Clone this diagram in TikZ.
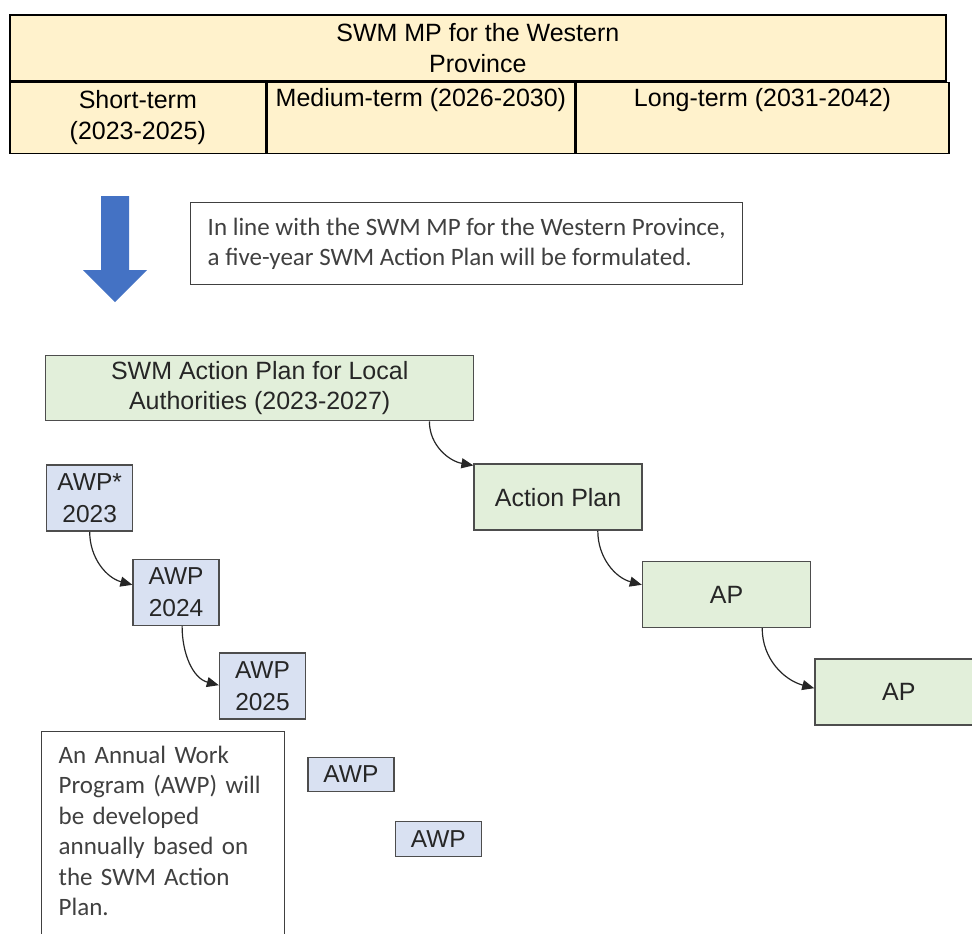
\documentclass[tikz,border=0pt]{standalone}
\usepackage{fontspec}
\setmainfont{Liberation Sans}
\newfontfamily\notefont{Carlito}
\usetikzlibrary{arrows.meta, positioning}
\definecolor{Ctab}{HTML}{FFF2CC}
\definecolor{Cplan}{HTML}{E2EFDA}
\definecolor{Cawp}{HTML}{D9E1F2}
\definecolor{Cblue}{HTML}{4472C4}
\definecolor{Cedge}{HTML}{4D4D4D}
\definecolor{Cnote}{HTML}{404040}
\tikzset{
  tabcell/.style={draw=black, line width=1.6pt, fill=Ctab, inner sep=0pt,
    align=center, font=\fontsize{25}{31}\selectfont},
  planbox/.style={draw=Cedge, line width=1.4pt, fill=Cplan, inner sep=0pt,
    align=center, minimum width=168pt, minimum height=66pt,
    font=\fontsize{25}{30}\selectfont, text=black!85},
  awpbox/.style={draw=Cedge, line width=1.4pt, fill=Cawp, inner sep=0pt,
    align=center, minimum width=86pt, minimum height=66pt,
    font=\fontsize{24.5}{32}\selectfont, text=black!85},
  notebox/.style={draw=Cnote, line width=1.4pt, fill=white, align=left,
    inner xsep=17pt, font=\notefont\fontsize{25}{30.5}\selectfont, text=Cnote},
  arr/.style={-{Triangle[length=12pt, width=10pt]}, line width=1.2pt, black!85},
}
\begin{document}
\begin{tikzpicture}[x=1pt, y=-1pt]
\useasboundingbox (0,0) rectangle (972,934);
\clip (0,0) rectangle (972,934);

%% master plan table
\node[tabcell, anchor=north west, minimum width=936pt, minimum height=66pt] (mp) at (9,14)
  {SWM MP for the Western\\Province};
\node[tabcell, below right=0pt and 0pt of mp.south west, minimum width=256pt, minimum height=71pt] (short)
  {Short-term\\(2023-2025)};
\node[tabcell, right=0pt of short, minimum width=307pt, minimum height=71pt] (medium)
  {Medium-term (2026-2030)\\\strut};
\node[tabcell, right=0pt of medium, minimum width=373pt, minimum height=71pt] (long)
  {Long-term (2031-2042)\\\strut};

%% block arrow and remark
\fill[Cblue] (101,196) -- (129,196) -- (129,270) -- (147,270) -- (115,302)
  -- (83,270) -- (101,270) -- cycle;
\node[notebox, anchor=north west, minimum height=82pt, inner ysep=0pt] (intro) at (190,202)
  {In line with the SWM MP for the Western Province,\\a five-year SWM Action Plan will be formulated.};

%% action plans
\node[planbox, anchor=north west, minimum width=428pt, minimum height=65pt] (lap) at (45,355)
  {SWM Action Plan for Local\\Authorities (2023-2027)};
\node[planbox, below right=42pt and -1pt of lap] (ap0) {Action Plan};
\node[planbox, below right=30pt and -1pt of ap0] (ap1) {AP};
\node[planbox, below right=30pt and 3pt of ap1] (ap2) {AP};

%% annual work programmes
\node[awpbox, below right=43pt and 1pt of lap.south west] (awp23) {AWP*\\2023};
\node[awpbox, below right=27pt and -1pt of awp23] (awp24) {AWP\\2024};
\node[awpbox, below right=26pt and -1pt of awp24] (awp25) {AWP\\2025};
\node[awpbox, below right=37pt and 1pt of awp25, minimum height=34pt] (awpa) {AWP};
\node[awpbox, below right=29pt and 0pt of awpa, minimum height=35pt] (awpb) {AWP};

\node[notebox, anchor=north west, text width=209pt, inner ysep=14pt, text depth=200pt] (awpnote) at (41,731)
  {An Annual Work\\Program (AWP) will\\be developed\\annually based on\\the SWM Action\\Plan.};

%% connectors
\draw[arr] ([xshift=-45pt]lap.south east) to[out=-90, in=170] ([yshift=-2pt]ap0.north west);
\draw[arr] ([xshift=-45pt]ap0.south east) to[out=-90, in=165] ([yshift=-24pt]ap1.north west);
\draw[arr] ([xshift=-49pt]ap1.south east) to[out=-90, in=165] ([yshift=-30pt]ap2.north west);
\draw[arr] (awp23.south) to[out=-90, in=165] ([yshift=-26pt]awp24.north west);
\draw[arr] ([xshift=6pt]awp24.south) to[out=-90, in=165] ([yshift=-33pt]awp25.north west);

\end{tikzpicture}
\end{document}
